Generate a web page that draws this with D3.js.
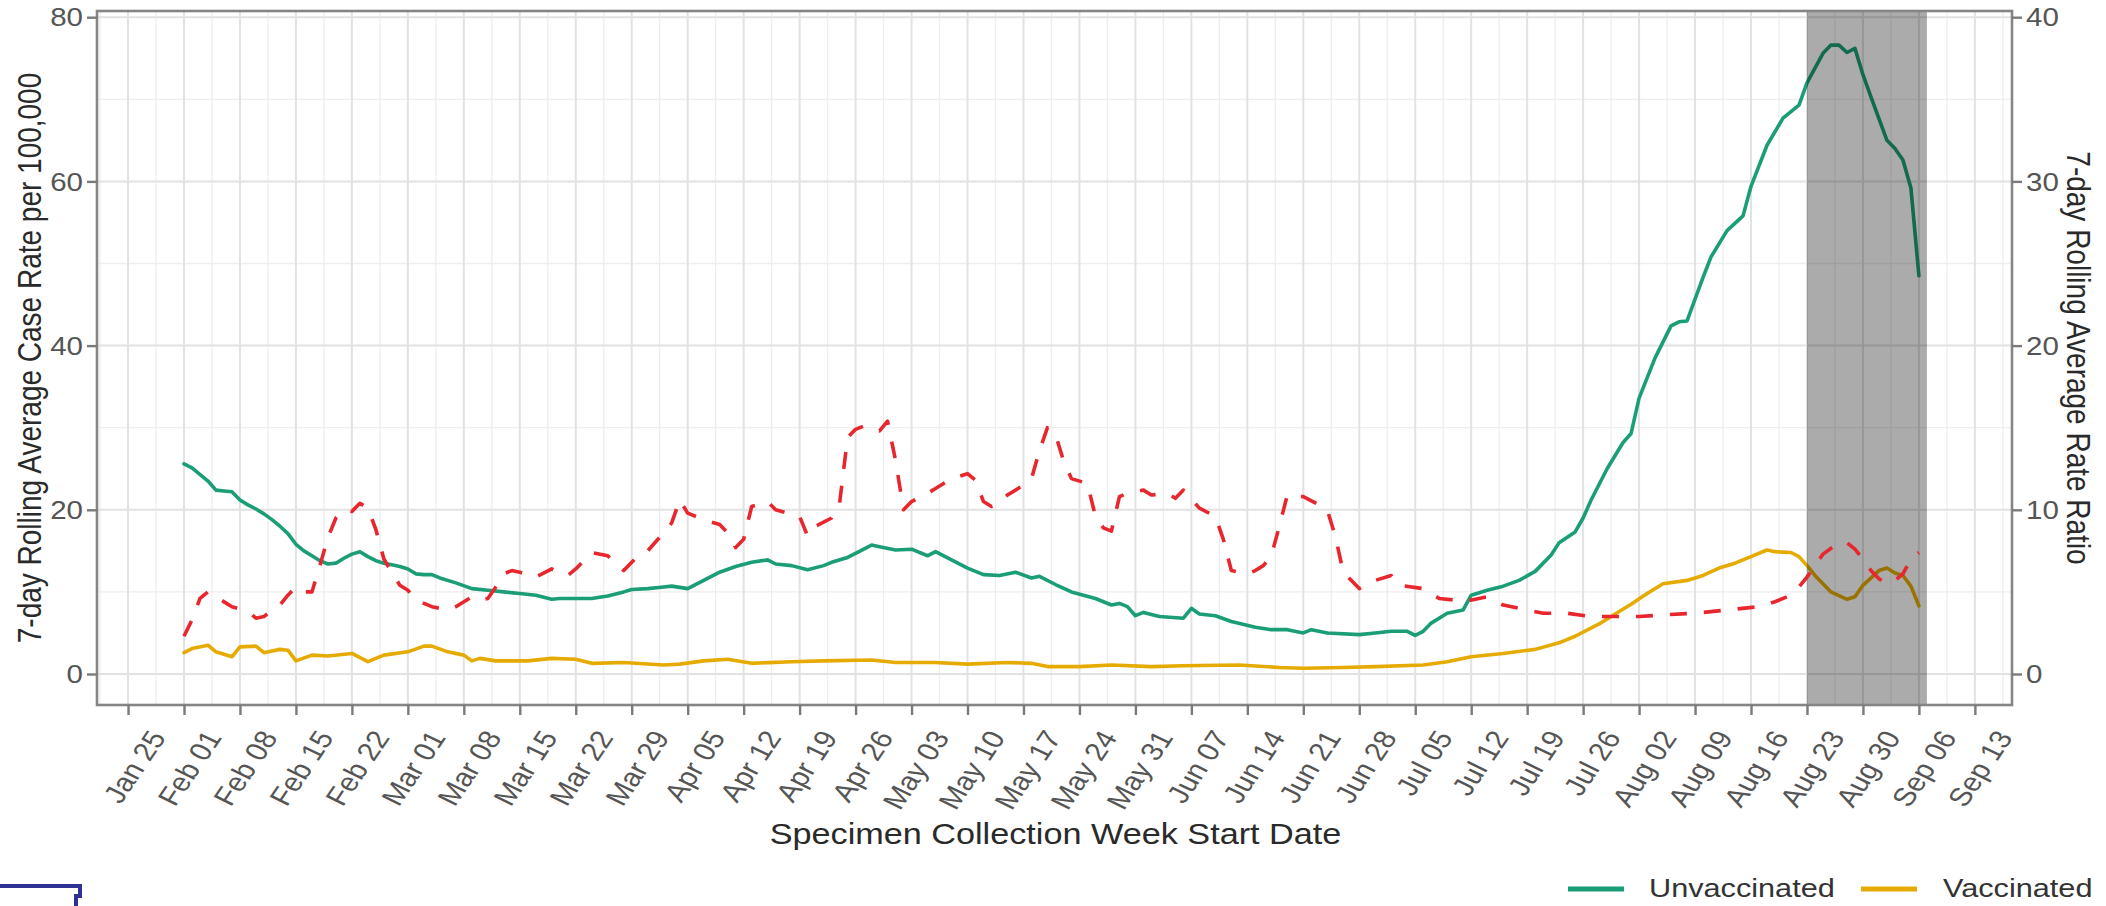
<!DOCTYPE html>
<html>
<head>
<meta charset="utf-8">
<script src="https://cdn.jsdelivr.net/npm/d3@7"></script>
<style>
  html, body { margin: 0; padding: 0; background: #ffffff; }
  svg { display: block; }
</style>
</head>
<body>
<svg id="chart" width="2106" height="906"></svg>
<script>
// ---------------- DATA (day offset from 2021-02-01, value) ----------------
const startDate = "2021-02-01";

// 7-day rolling average case rate per 100,000 — Unvaccinated
const unvaccinated = [
  [0,25.6],[1,25.1],[3,23.5],[4,22.4],[5,22.3],[6,22.2],[7,21.2],[8,20.6],[9,20.1],[10,19.5],
  [11,18.8],[12,18.0],[13,17.1],[14,15.8],[15,15.0],[16,14.4],[17,13.8],[18,13.4],[19,13.5],[20,14.1],
  [21,14.6],[22,14.9],[23,14.3],[24,13.8],[25,13.5],[26,13.3],[27,13.1],[28,12.8],[29,12.2],[30,12.1],
  [31,12.1],[32,11.7],[34,11.1],[36,10.4],[38,10.2],[40,10.0],[42,9.8],[44,9.6],[46,9.1],[47,9.2],
  [49,9.2],[51,9.2],[53,9.5],[55,10.0],[56,10.3],[58,10.4],[60,10.6],[61,10.7],[63,10.4],[65,11.4],
  [67,12.4],[69,13.1],[71,13.6],[73,13.9],[74,13.4],[76,13.2],[78,12.7],[80,13.2],[81,13.6],[83,14.2],
  [84,14.7],[86,15.7],[87,15.5],[89,15.1],[91,15.2],[93,14.4],[94,14.9],[96,13.9],[98,12.9],[100,12.1],
  [102,12.0],[104,12.4],[106,11.7],[107,11.9],[109,10.9],[111,10.0],[114,9.2],[116,8.4],[117,8.6],[118,8.2],
  [119,7.1],[120,7.5],[122,7.0],[125,6.8],[126,8.0],[127,7.3],[129,7.1],[131,6.4],[134,5.7],[136,5.4],
  [138,5.4],[140,5.0],[141,5.4],[143,5.0],[147,4.8],[149,5.0],[151,5.2],[153,5.2],[154,4.7],[155,5.2],
  [156,6.2],[158,7.4],[160,7.8],[161,9.6],[163,10.2],[165,10.7],[167,11.4],[169,12.5],[171,14.5],[172,16.0],
  [174,17.3],[175,19.0],[176,21.2],[178,25.0],[180,28.2],[181,29.3],[182,33.6],[184,38.5],[186,42.4],[187,42.9],
  [188,43.0],[190,48.3],[191,50.8],[193,54.0],[195,55.8],[196,59.4],[198,64.4],[200,67.7],[202,69.3],[203,72.0],
  [205,75.6],[206,76.6],[207,76.6],[208,75.7],[209,76.2],[210,73.0],[211,70.3],[213,65.0],[214,64.0],[215,62.6],
  [216,59.2],[217,48.5]
];

// 7-day rolling average case rate per 100,000 — Vaccinated
const vaccinated = [
  [0,2.6],[1,3.1],[3,3.5],[4,2.7],[6,2.1],[7,3.3],[9,3.4],[10,2.6],[12,3.0],[13,2.9],
  [14,1.6],[16,2.3],[18,2.2],[21,2.5],[23,1.5],[25,2.3],[28,2.7],[30,3.4],[31,3.4],[33,2.7],
  [35,2.3],[36,1.6],[37,1.9],[39,1.6],[43,1.6],[46,1.9],[49,1.8],[51,1.3],[55,1.4],[60,1.1],
  [62,1.2],[65,1.6],[68,1.8],[71,1.3],[76,1.5],[80,1.6],[86,1.7],[89,1.4],[94,1.4],[98,1.2],
  [103,1.4],[106,1.3],[108,0.9],[112,0.9],[116,1.1],[121,0.9],[125,1.0],[132,1.1],[137,0.8],[140,0.7],
  [145,0.8],[149,0.9],[155,1.1],[158,1.5],[161,2.1],[165,2.5],[169,3.0],[172,3.8],[174,4.6],[177,6.1],
  [179,7.3],[181,8.5],[183,9.8],[185,11.0],[188,11.4],[190,12.0],[192,12.9],[194,13.5],[196,14.3],[198,15.1],
  [199,14.9],[201,14.8],[202,14.3],[203,13.2],[204,12.0],[206,10.0],[208,9.1],[209,9.4],[210,10.8],[212,12.6],
  [213,12.9],[214,12.3],[215,12.0],[216,10.7],[217,8.3]
];

// 7-day rolling average rate ratio (right axis)
const rateRatio = [
  [0,2.3],[1,3.3],[2,4.6],[3,5.0],[4,4.7],[6,4.1],[8,3.8],[9,3.4],[10,3.5],[11,3.9],
  [12,4.2],[13,4.8],[14,5.3],[15,5.0],[16,5.0],[17,6.6],[18,8.3],[19,9.5],[20,10.0],[21,9.9],
  [22,10.4],[23,10.1],[24,8.8],[25,7.0],[27,5.4],[28,5.1],[29,4.5],[31,4.1],[33,3.9],[34,4.1],
  [36,4.7],[37,4.5],[38,4.6],[39,5.3],[40,6.1],[41,6.3],[42,6.2],[44,5.9],[46,6.4],[48,6.0],
  [49,6.4],[51,7.4],[53,7.2],[54,6.7],[55,6.3],[57,7.3],[58,7.5],[60,8.6],[61,9.2],[62,10.6],
  [63,9.8],[65,9.4],[67,9.1],[68,8.6],[69,7.7],[70,8.2],[71,10.2],[73,10.5],[74,10.0],[77,9.6],
  [78,8.4],[79,9.0],[81,9.5],[82,10.4],[83,14.4],[84,14.9],[85,15.1],[86,14.9],[87,14.8],[88,15.4],
  [89,13.0],[90,10.0],[91,10.5],[93,11.0],[94,11.3],[96,11.9],[98,12.2],[99,11.8],[100,10.5],[101,10.2],
  [103,10.9],[105,11.5],[106,11.9],[107,13.6],[108,15.0],[109,14.6],[110,13.0],[111,11.9],[113,11.6],[114,9.6],
  [115,8.9],[116,8.7],[117,10.8],[118,11.0],[120,11.2],[121,10.9],[123,11.0],[124,10.7],[125,11.2],[127,10.1],
  [129,9.6],[130,8.2],[131,6.3],[133,6.1],[134,6.3],[135,6.6],[136,7.2],[137,9.0],[138,10.9],[140,10.8],
  [142,10.3],[143,10.0],[144,8.4],[145,6.2],[147,5.2],[149,5.7],[151,6.0],[152,5.4],[155,5.2],[157,4.6],
  [159,4.5],[160,4.4],[163,4.7],[165,4.2],[167,4.0],[170,3.7],[173,3.7],[176,3.5],[180,3.5],[182,3.5],
  [185,3.6],[189,3.7],[193,3.9],[197,4.1],[199,4.4],[201,4.8],[202,5.3],[203,5.9],[204,6.6],[205,7.3],
  [207,8.0],[208,8.0],[209,7.6],[210,7.0],[211,6.3],[212,5.8],[213,5.5],[214,5.7],[215,6.1],[216,7.0],
  [217,7.4]
];

const shadeRange = ["2021-08-23", "2021-09-07"];
const xDataRange = ["2021-02-01", "2021-09-07"];
const xTicks = ["2021-01-25","2021-02-01","2021-02-08","2021-02-15","2021-02-22","2021-03-01","2021-03-08",
  "2021-03-15","2021-03-22","2021-03-29","2021-04-05","2021-04-12","2021-04-19","2021-04-26","2021-05-03",
  "2021-05-10","2021-05-17","2021-05-24","2021-05-31","2021-06-07","2021-06-14","2021-06-21","2021-06-28",
  "2021-07-05","2021-07-12","2021-07-19","2021-07-26","2021-08-02","2021-08-09","2021-08-16","2021-08-23",
  "2021-08-30","2021-09-06","2021-09-13"];
const yTicksLeft = [0, 20, 40, 60, 80];
const yTicksRight = [0, 10, 20, 30, 40];
const yMinorLeft = [10, 30, 50, 70];
const seriesNames = ["Unvaccinated", "Vaccinated"];

const xTitle = "Specimen Collection Week Start Date";
const yTitleLeft = "7-day Rolling Average Case Rate per 100,000";
const yTitleRight = "7-day Rolling Average Rate Ratio";

// ---------------- LAYOUT ----------------
const parse = d3.utcParse("%Y-%m-%d");
const base = parse(startDate);
const toDate = d => d3.utcDay.offset(base, d);

const L = 97, R = 2012, T = 11, B = 705;
const SX = 1.18; // horizontal stretch of the original image's text
const FONT = "'Liberation Sans', Arial, Helvetica, sans-serif";

const col = { unvax: "#1b9e77", vax: "#e6ab02", ratio: "#e8262d" };

const x = d3.scaleUtc()
  .domain(xDataRange.map(parse))
  .range([184, 184 + 218 * 7.995]);
const y = d3.scaleLinear().domain([0, 80]).range([674, 17.2]);
const y2 = d3.scaleLinear().domain([0, 40]).range([674, 17.2]);

const svg = d3.select("#chart");
svg.append("rect").attr("width", 2106).attr("height", 906).attr("fill", "#ffffff");

// clip for panel
svg.append("defs").append("clipPath").attr("id", "panel")
  .append("rect").attr("x", L).attr("y", T).attr("width", R - L).attr("height", B - T);

const grid = svg.append("g");
// minor vertical gridlines (mid-week)
const tickDates = xTicks.map(parse);
const minorV = [];
for (let i = -1; i < tickDates.length; i++) {
  const dd = new Date(d3.utcDay.offset(tickDates[Math.max(i,0)], i < 0 ? -7 : 0).getTime() + 3.5 * 864e5);
  const px = x(dd);
  if (px > L && px < R) minorV.push(dd);
}
grid.selectAll("line.vminor").data(minorV).join("line")
  .attr("x1", d => x(d)).attr("x2", d => x(d)).attr("y1", T).attr("y2", B)
  .attr("stroke", "#eeeeee").attr("stroke-width", 1.3);
grid.selectAll("line.hminor").data(yMinorLeft).join("line")
  .attr("x1", L).attr("x2", R).attr("y1", d => y(d)).attr("y2", d => y(d))
  .attr("stroke", "#eeeeee").attr("stroke-width", 1.3);
grid.selectAll("line.vmajor").data(tickDates).join("line")
  .attr("x1", d => x(d)).attr("x2", d => x(d)).attr("y1", T).attr("y2", B)
  .attr("stroke", "#e2e2e2").attr("stroke-width", 2);
grid.selectAll("line.hmajor").data(yTicksLeft).join("line")
  .attr("x1", L).attr("x2", R).attr("y1", d => y(d)).attr("y2", d => y(d))
  .attr("stroke", "#e2e2e2").attr("stroke-width", 2);

const plot = svg.append("g").attr("clip-path", "url(#panel)");

const lineL = d3.line().x(d => x(toDate(d[0]))).y(d => y(d[1])).curve(d3.curveLinear);
const lineR = d3.line().x(d => x(toDate(d[0]))).y(d => y2(d[1])).curve(d3.curveLinear);

plot.append("path").datum(unvaccinated).attr("d", lineL)
  .attr("fill", "none").attr("stroke", col.unvax).attr("stroke-width", 3.6)
  .attr("stroke-linejoin", "round").attr("stroke-linecap", "round");
plot.append("path").datum(vaccinated).attr("d", lineL)
  .attr("fill", "none").attr("stroke", col.vax).attr("stroke-width", 3.6)
  .attr("stroke-linejoin", "round").attr("stroke-linecap", "round");

// shaded (incomplete data) window
const sr = shadeRange.map(parse);
plot.append("rect")
  .attr("x", x(sr[0])).attr("width", x(sr[1]) - x(sr[0]))
  .attr("y", T).attr("height", B - T)
  .attr("fill", "#000000").attr("fill-opacity", 0.33);

plot.append("path").datum(rateRatio).attr("d", lineR)
  .attr("fill", "none").attr("stroke", col.ratio).attr("stroke-width", 3.6)
  .attr("stroke-dasharray", "17,17").attr("stroke-linejoin", "round");

// panel border
svg.append("rect").attr("x", L).attr("y", T).attr("width", R - L).attr("height", B - T)
  .attr("fill", "none").attr("stroke", "#858585").attr("stroke-width", 2.6);

// ---------------- AXES ----------------
const tickColor = "#7a7a7a", labColor = "#555555";

const xAxis = svg.append("g").attr("transform", `translate(0,${B})`)
  .call(d3.axisBottom(x).tickValues(tickDates).tickSize(10).tickFormat(d3.utcFormat("%b %d")));
xAxis.select(".domain").remove();
xAxis.selectAll(".tick line").attr("stroke", tickColor).attr("stroke-width", 2.4);
xAxis.selectAll(".tick text")
  .attr("x", null).attr("y", null).attr("dy", "0.72em")
  .attr("transform", `translate(19,23) scale(${SX},1) rotate(-60)`)
  .attr("text-anchor", "end").attr("fill", labColor)
  .attr("font-size", 26).attr("font-family", FONT);

const yAxisL = svg.append("g").attr("transform", `translate(${L},0)`)
  .call(d3.axisLeft(y).tickValues(yTicksLeft).tickSize(10));
yAxisL.select(".domain").remove();
yAxisL.selectAll(".tick line").attr("stroke", tickColor).attr("stroke-width", 2.4);
yAxisL.selectAll(".tick text")
  .attr("x", null).attr("dy", "0.35em")
  .attr("transform", `translate(-14,0) scale(${SX},1)`)
  .attr("text-anchor", "end").attr("fill", labColor)
  .attr("font-size", 25).attr("font-family", FONT);

const yAxisR = svg.append("g").attr("transform", `translate(${R},0)`)
  .call(d3.axisRight(y2).tickValues(yTicksRight).tickSize(10));
yAxisR.select(".domain").remove();
yAxisR.selectAll(".tick line").attr("stroke", tickColor).attr("stroke-width", 2.4);
yAxisR.selectAll(".tick text")
  .attr("x", null).attr("dy", "0.35em")
  .attr("transform", `translate(14,0) scale(${SX},1)`)
  .attr("text-anchor", "start").attr("fill", labColor)
  .attr("font-size", 25).attr("font-family", FONT);

// titles
const titleColor = "#2a2a2a";
svg.append("text").text(xTitle)
  .attr("transform", `translate(${(L + R) / 2 + 1},844) scale(${SX},1)`)
  .attr("text-anchor", "middle").attr("font-size", 29).attr("font-family", FONT).attr("fill", titleColor);
svg.append("text").text(yTitleLeft)
  .attr("transform", `translate(41,${(T + B) / 2}) scale(${SX},1) rotate(-90)`)
  .attr("text-anchor", "middle").attr("font-size", 28).attr("font-family", FONT).attr("fill", titleColor);
svg.append("text").text(yTitleRight)
  .attr("transform", `translate(2067,${(T + B) / 2}) scale(${SX},1) rotate(90)`)
  .attr("text-anchor", "middle").attr("font-size", 28).attr("font-family", FONT).attr("fill", titleColor);

// ---------------- LEGEND ----------------
const legend = svg.append("g");
const legItems = [
  { name: seriesNames[0], color: col.unvax, kx: 1568, tx: 1649 },
  { name: seriesNames[1], color: col.vax, kx: 1861, tx: 1943 }
];
legItems.forEach(it => {
  legend.append("line").attr("x1", it.kx).attr("x2", it.kx + 56).attr("y1", 889).attr("y2", 889)
    .attr("stroke", it.color).attr("stroke-width", 5);
  legend.append("text").text(it.name)
    .attr("transform", `translate(${it.tx},897) scale(${SX},1)`)
    .attr("font-size", 26).attr("font-family", FONT).attr("fill", "#333333");
});

// decorative frame fragment at bottom-left of the original screenshot
svg.append("path").attr("d", "M0,886 H80 V896 H76 V906")
  .attr("fill", "none").attr("stroke", "#2e3192").attr("stroke-width", 4);
</script>
</body>
</html>
